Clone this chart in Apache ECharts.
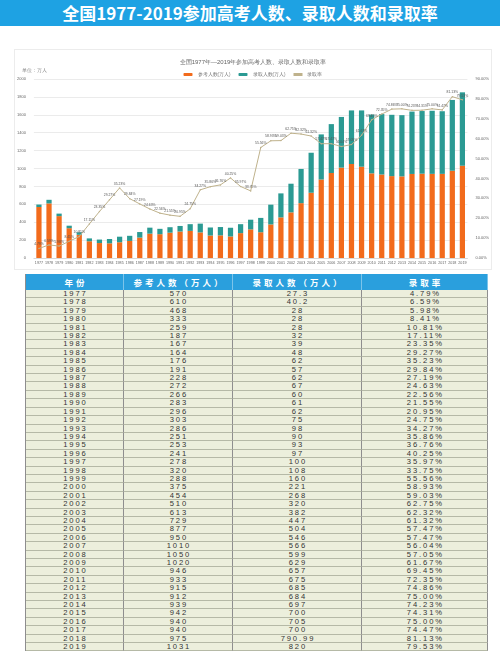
<!DOCTYPE html>
<html><head><meta charset="utf-8">
<script src="https://cdn.jsdelivr.net/npm/echarts@6/dist/echarts.min.js"></script>
<style>
html,body{margin:0;padding:0;background:#fff;width:500px;height:666px;overflow:hidden;font-family:"Noto Sans CJK SC","Noto Sans",sans-serif;}
#banner{position:absolute;left:0;top:0;width:500px;height:26px;background:#1ea2e3;color:#fff;font-weight:bold;font-size:17px;line-height:26px;text-align:center;}
#box{position:absolute;left:14px;top:49px;width:478px;height:221px;border:1px solid #ececec;box-sizing:border-box;}
#chart{position:absolute;left:14px;top:49px;width:478px;height:221px;}
#tbl{position:absolute;left:25px;top:274px;width:462px;display:grid;grid-template-columns:98px 109px 129px 126px;grid-template-rows:16px;grid-auto-rows:8.42px;border-left:1px solid #8e8e8e;box-sizing:border-box;}
.th{background:#2a9fdd;color:#fff;font-weight:bold;font-size:8.5px;line-height:16px;letter-spacing:3px;text-indent:3px;text-align:center;border-right:1px solid #7cc4ea;box-sizing:border-box;overflow:hidden;white-space:nowrap;}
.td{background:#ecefdc;color:#333;font-family:"Liberation Sans",Arial,sans-serif;font-size:7.6px;letter-spacing:1.9px;text-indent:1.9px;line-height:8px;text-align:center;border-right:1px solid #8e8e8e;border-bottom:1px solid #b5b9a6;box-sizing:border-box;overflow:hidden;white-space:nowrap;}
</style></head>
<body>
<div id="banner">全国1977-2019参加高考人数、录取人数和录取率</div>
<div id="box"></div>
<div id="chart"></div>
<div id="tbl"></div>
<script>
const years = ['1977','1978','1979','1980','1981','1982','1983','1984','1985','1986','1987','1988','1989','1990','1991','1992','1993','1994','1995','1996','1997','1998','1999','2000','2001','2002','2003','2004','2005','2006','2007','2008','2009','2010','2011','2012','2013','2014','2015','2016','2017','2018','2019'];
const applicants = [570,610,468,333,259,187,167,164,176,191,228,272,266,283,296,303,286,251,253,241,278,320,288,375,454,510,613,729,877,950,1010,1050,1020,946,933,915,912,939,942,940,940,975,1031];
const admitted = [27.3,40.2,28,28,28,32,39,48,62,57,62,67,60,61,62,75,98,90,93,97,100,108,160,221,268,320,382,447,504,546,566,599,629,657,675,685,684,697,700,705,700,790.99,820];
const rates = [4.79,6.59,5.98,8.41,10.81,17.11,23.35,29.27,35.23,29.84,27.19,24.63,22.56,21.55,20.95,24.75,34.27,35.86,36.76,40.25,35.97,33.75,55.56,58.93,59.03,62.75,62.32,61.32,57.47,57.47,56.04,57.05,61.67,69.45,72.35,74.86,75.00,74.23,74.31,75.00,74.47,81.13,79.53];
const headers = ['年份','参考人数（万人）','录取人数（万人）','录取率'];
const seriesNames = ['参考人数(万人)','录取人数(万人)','录取率'];
const chartTitle = '全国1977年—2019年参加高考人数、录取人数和录取率';

// table
let html = headers.map(h=>'<div class="th">'+h+'</div>').join('');
years.forEach((y,i)=>{
  html += '<div class="td">'+y+'</div><div class="td">'+applicants[i]+'</div><div class="td">'+admitted[i]+'</div><div class="td">'+rates[i].toFixed(2)+'%</div>';
});
document.getElementById('tbl').innerHTML = html;

const chart = echarts.init(document.getElementById('chart'));
chart.setOption({
  animation:false,
  title:{text:chartTitle,left:'center',top:5,textStyle:{fontSize:6,fontWeight:'normal',color:'#666'}},
  legend:{top:18,left:'center',itemWidth:9,itemHeight:3,itemGap:8,textStyle:{fontSize:4.5,color:'#777'},
    data:[{name:seriesNames[0]},{name:seriesNames[1]},{name:seriesNames[2],icon:'rect'}]},
  grid:{left:15,right:21,top:30,bottom:12},
  xAxis:{type:'category',data:years,axisTick:{show:false},axisLine:{lineStyle:{color:'#d8d8d8'}},
    axisLabel:{interval:0,fontSize:3.7,color:'#666',margin:3}},
  yAxis:[
    {type:'value',min:0,max:2000,interval:200,name:'单位：万人',nameLocation:'end',nameGap:6,
      nameTextStyle:{fontSize:4.5,color:'#888',align:'left',padding:[0,0,0,-12]},
      axisLabel:{fontSize:4,color:'#666',margin:8,formatter:v=>String(v)},splitLine:{lineStyle:{color:'#ebebeb'}},axisLine:{show:false},axisTick:{show:false}},
    {type:'value',min:0,max:90,interval:10,position:'right',
      axisLabel:{fontSize:4,color:'#666',margin:8,formatter:v=>v.toFixed(2)+'%'},splitLine:{show:false},axisLine:{show:false},axisTick:{show:false}}
  ],
  series:[
    {name:seriesNames[0],type:'bar',stack:'t',data:applicants,barWidth:'52%',itemStyle:{color:'#f26b1c'}},
    {name:seriesNames[1],type:'bar',stack:'t',data:admitted,itemStyle:{color:'#2b9a93'}},
    {name:seriesNames[2],type:'line',yAxisIndex:1,data:rates,symbol:'circle',symbolSize:1.5,
      lineStyle:{color:'#bfb28c',width:1},itemStyle:{color:'#bfb28c'},
      label:{show:true,position:'top',distance:2,fontSize:3.4,color:'#555',formatter:p=>p.value.toFixed(2)+'%'}}
  ]
});
</script>
</body></html>
